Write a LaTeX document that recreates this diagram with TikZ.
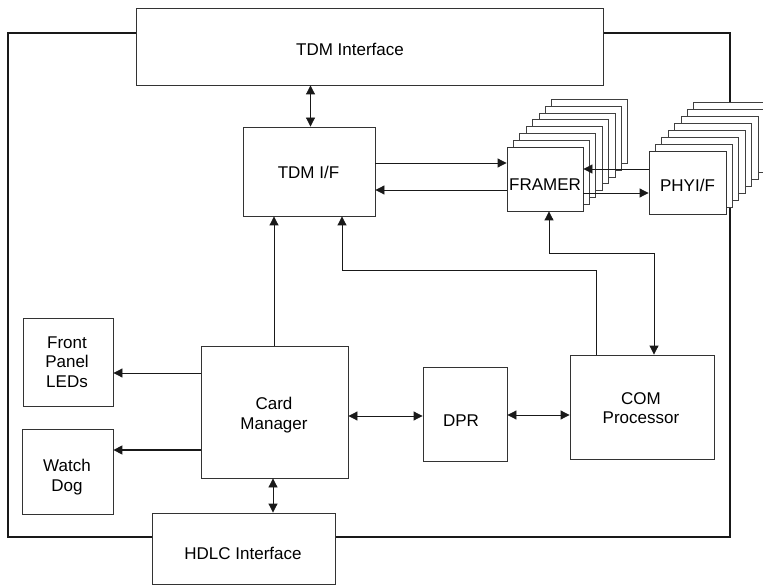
\documentclass[tikz,border=0pt]{standalone}
\usepackage{fontspec}
\setmainfont{Liberation Sans}
\usetikzlibrary{arrows.meta,calc}
\begin{document}
\begin{tikzpicture}[x=1pt,y=-1pt,
  box/.style={draw=black!80, line width=0.85pt, fill=white, inner sep=0pt},
  stk/.style={draw=black!75, line width=0.85pt, fill=white, inner sep=0pt},
  txt/.style={inner sep=0pt, align=center, font=\fontsize{17}{19.5}\selectfont},
  conn/.style={line width=0.85pt, draw=black!90},
  tip/.tip={Triangle[length=9pt,width=9pt]},
  arr/.style={conn, -tip},
  darr/.style={conn, tip-tip},
]
\clip (0,0) rectangle (763,585);
\fill[white] (0,0) rectangle (763,585);
% card outline
\node[draw=black!90, line width=1.4pt, minimum width=722, minimum height=504, inner sep=0pt] (card) at (369,285) {};
% interfaces on the outline
\node[box, minimum width=467, minimum height=77] (tdmint) at (369.5,46.5) {};
\node[box, minimum width=183, minimum height=71] (hdlc) at (243.5,548.5) {};
% inner blocks
\node[box, minimum width=132, minimum height=89] (tdmif) at (309,171.5) {};
\node[box, minimum width=90, minimum height=88] (fpled) at (68,362) {};
\node[box, minimum width=91, minimum height=85] (wdog) at (67.5,471.5) {};
\node[box, minimum width=147, minimum height=132] (cardmgr) at (274.5,412) {};
\node[box, minimum width=84, minimum height=94] (dpr) at (465,414) {};
\node[box, minimum width=144, minimum height=104] (com) at (642,407) {};
% framer stack
\foreach \k in {7,6,...,1} {
  \node[stk, minimum width=76, minimum height=64] (fr\k) at ({545+6.4*\k},{179-6.8*\k}) {};
}
\node[box, minimum width=76, minimum height=64] (framer) at (545,179) {};
% phy stack
\foreach \k in {7,6,...,1} {
  \node[stk, minimum width=77, minimum height=63] (ph\k) at ({687.5+6.4*\k},{182.5-6.9*\k}) {};
}
\node[box, minimum width=77, minimum height=63] (phy) at (687.5,182.5) {};
% texts
\node[txt] (tdmintT) at (350,49.5) {TDM Interface};
\node[txt] (hdlcT) at (243,553) {HDLC Interface};
\node[txt] (tdmifT) at (308.5,172) {TDM I/F};
\node[txt] (framerT) at (545,185) {FRAMER};
\node[txt] (phyT) at (687.5,185.5) {PHYI/F};
\node[txt] (fpledT) at (67,362) {Front\\Panel\\LEDs};
\node[txt] (wdogT) at (67,477) {Watch\\Dog};
\node[txt] (cardmgrT) at (274,415) {Card\\Manager};
\node[txt] (dprT) at (461,420.7) {DPR};
\node[txt] (comT) at (641,408) {COM\\Processor};
% connectors
\draw[darr] ([xshift=1.5pt]tdmif.north) -- ([xshift=1.5pt]tdmif.north |- tdmint.south);
\draw[arr] ([yshift=8.5pt]tdmif.east) -- ([yshift=8.5pt]tdmif.east -| framer.west);
\draw[arr] ([yshift=-18.5pt]tdmif.east -| framer.west) -- ([yshift=-18.5pt]tdmif.east);
\draw[arr] ([yshift=13.5pt]phy.west) -- ([yshift=13.5pt]phy.west -| framer.east);
\draw[arr] ([yshift=-14pt]framer.east) -- ([yshift=-14pt]framer.east -| phy.west);
\draw[arr] ([xshift=-0.5pt]cardmgr.north) -- ([xshift=-0.5pt]cardmgr.north |- tdmif.south);
\draw[arr] ([xshift=-46pt]com.north) -- ++(0,-84) -| ([xshift=33pt]tdmif.south);
\draw[darr] ([xshift=4pt]framer.south) -- ++(0,42) -| ([xshift=12pt]com.north);
\draw[arr] ([yshift=39pt]cardmgr.west) -- ([yshift=39pt]cardmgr.west -| fpled.east);
\draw[arr, line width=1.5pt] ([yshift=-38pt]cardmgr.west) -- ([yshift=-38pt]cardmgr.west -| wdog.east);
\draw[darr] ([yshift=-4pt]cardmgr.east) -- ([yshift=-4pt]cardmgr.east -| dpr.west);
\draw[darr] ([yshift=-1pt]dpr.east) -- ([yshift=-1pt]dpr.east -| com.west);
\draw[darr] ([xshift=-1.5pt]cardmgr.south) -- ([xshift=-1.5pt]cardmgr.south |- hdlc.north);
\end{tikzpicture}
\end{document}
